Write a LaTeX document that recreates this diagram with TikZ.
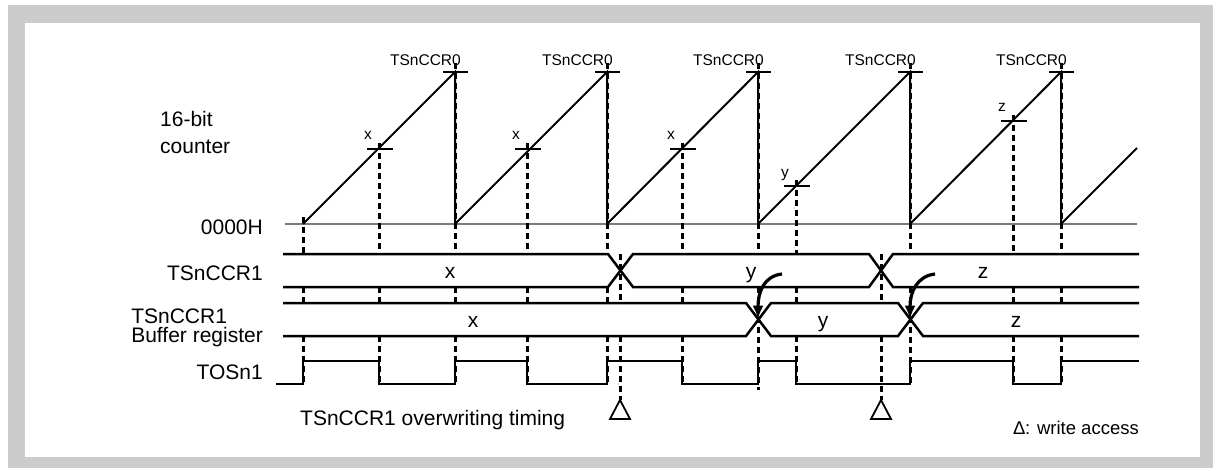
\documentclass[tikz,border=0pt]{standalone}
\usepackage{fontspec}
\setmainfont{Liberation Sans}
\usetikzlibrary{arrows.meta}
\definecolor{Frame}{HTML}{CCCCCC}
\definecolor{Base}{HTML}{7A7A7A}

\begin{document}
\begin{tikzpicture}[x=1pt,y=-1pt,
    sig/.style={line width=2pt},
    bus/.style={line width=2.5pt},
    guide/.style={line width=3pt,dash pattern=on 6pt off 4pt},
    lbl/.style={font=\fontsize{21}{25}\selectfont,inner sep=0pt},
    tag/.style={font=\fontsize{15.5}{18}\selectfont,inner sep=0pt},
    wr/.style={line width=3.2pt,-{Latex[length=14pt,width=11pt]}}]
  \useasboundingbox (0,0) rectangle (1213,468);
  \fill[Frame] (8,5) rectangle (1213,468);
  \fill[white] (25,23) rectangle (1200,457);

  % row labels
  \node[lbl,anchor=north west,align=left,font=\fontsize{21}{27}\selectfont] (cnt) at (160,111) {16-bit\\counter};
  \node[lbl,anchor=east] (zero) at (263,227) {0000H};
  \node[lbl,anchor=east] (ccr) at (263,273) {TSnCCR1};
  \node[lbl,anchor=north east,align=left,font=\fontsize{21}{19}\selectfont] (buf) at (263,309) {TSnCCR1\\Buffer register};
  \node[lbl,anchor=east] (tos) at (263,372) {TOSn1};
  \node[lbl,anchor=base west] (ovw) at (300,425) {TSnCCR1 overwriting timing};
  \node[font=\fontsize{18.5}{20}\selectfont,inner sep=0pt,anchor=base east] (key) at (1139,434) {∆: write access};

  % 16-bit counter
  \draw[Base,line width=1.3pt] (285,224) -- (1137,224);
  \draw[sig] (303,224) -- (455,72) -- (455,224) -- (607,72) -- (607,224) -- (758,72) -- (758,224)
    -- (910,72) -- (910,224) -- (1061,72) -- (1061,224) -- (1137,148);
  \foreach \p in {455,607,758,910,1061} {
    \draw[sig] (\p-12,72) -- (\p+13,72);
    \node[tag,anchor=base east] at (\p+6,66) {TSnCCR0};
  }
  \foreach \p/\t in {303/217,455/63,607/63,1061/63} {
    \draw[guide] (\p,\t) -- (\p,254);
    \draw[guide] (\p,287) -- (\p,303);
    \draw[guide] (\p,336) -- (\p,384);
  }
  \foreach \p/\b in {758/390,910/384} {
    \draw[guide] (\p,63) -- (\p,254);
    \draw[guide] (\p,287) -- (\p,\b);
  }
  \foreach \cx/\cy/\v in {379/149/x,527/149/x,682/149/x,796/186/y,1013/121/z} {
    \draw[sig] (\cx-12,\cy) -- (\cx+14,\cy);
    \draw[guide] (\cx,\cy-6) -- (\cx,254);
    \draw[guide] (\cx,287) -- (\cx,303);
    \draw[guide] (\cx,336) -- (\cx,384);
    \node[tag,anchor=base] at (\cx-11,\cy-9) {\v};
  }

  % TSnCCR1
  \draw[bus] (283,254) -- (608,254) -- (633,287) -- (869,287) -- (893,254) -- (1139,254);
  \draw[bus] (283,287) -- (608,287) -- (633,254) -- (869,254) -- (893,287) -- (1139,287);
  \node[lbl,anchor=base] at (450,278) {x};
  \node[lbl,anchor=base] at (751,278) {y};
  \node[lbl,anchor=base] at (983,278) {z};

  % buffer register
  \draw[bus] (283,303) -- (746,303) -- (771,336) -- (898,336) -- (923,303) -- (1139,303);
  \draw[bus] (283,336) -- (746,336) -- (771,303) -- (898,303) -- (923,336) -- (1139,336);
  \node[lbl,anchor=base] at (473,327) {x};
  \node[lbl,anchor=base] at (823,327) {y};
  \node[lbl,anchor=base] at (1016,327) {z};
  \coordinate (bx1) at (758,319.5);
  \coordinate (bx2) at (910,319.5);
  \coordinate (a1) at (782,274);
  \coordinate (a2) at (935,274);
  \draw[wr] (a1) .. controls (764,276) and (758,292) .. (bx1);
  \draw[wr] (a2) .. controls (917,276) and (910,292) .. (bx2);

  % TOSn1
  \draw[sig] (276,384) -- (303,384) -- (303,361) -- (379,361) -- (379,384) -- (455,384) -- (455,361)
    -- (527,361) -- (527,384) -- (607,384) -- (607,361) -- (682,361) -- (682,384) -- (758,384)
    -- (758,361) -- (796,361) -- (796,384) -- (910,384) -- (910,361) -- (1013,361) -- (1013,384)
    -- (1061,384) -- (1061,361) -- (1139,361);

  % write access
  \coordinate (t1) at (620,254);
  \coordinate (t2) at (881,254);
  \coordinate (w1) at (620,400);
  \coordinate (w2) at (881,400);
  \draw[guide] (t1) -- (620,303);
  \draw[guide] (620,336) -- (w1);
  \draw[guide] (t2) -- (881,303);
  \draw[guide] (881,336) -- (w2);
  \draw[line width=1.8pt] (w1) -- ++(-10,19) -- ++(20,0) -- cycle;
  \draw[line width=1.8pt] (w2) -- ++(-10,19) -- ++(20,0) -- cycle;
\end{tikzpicture}
\end{document}
